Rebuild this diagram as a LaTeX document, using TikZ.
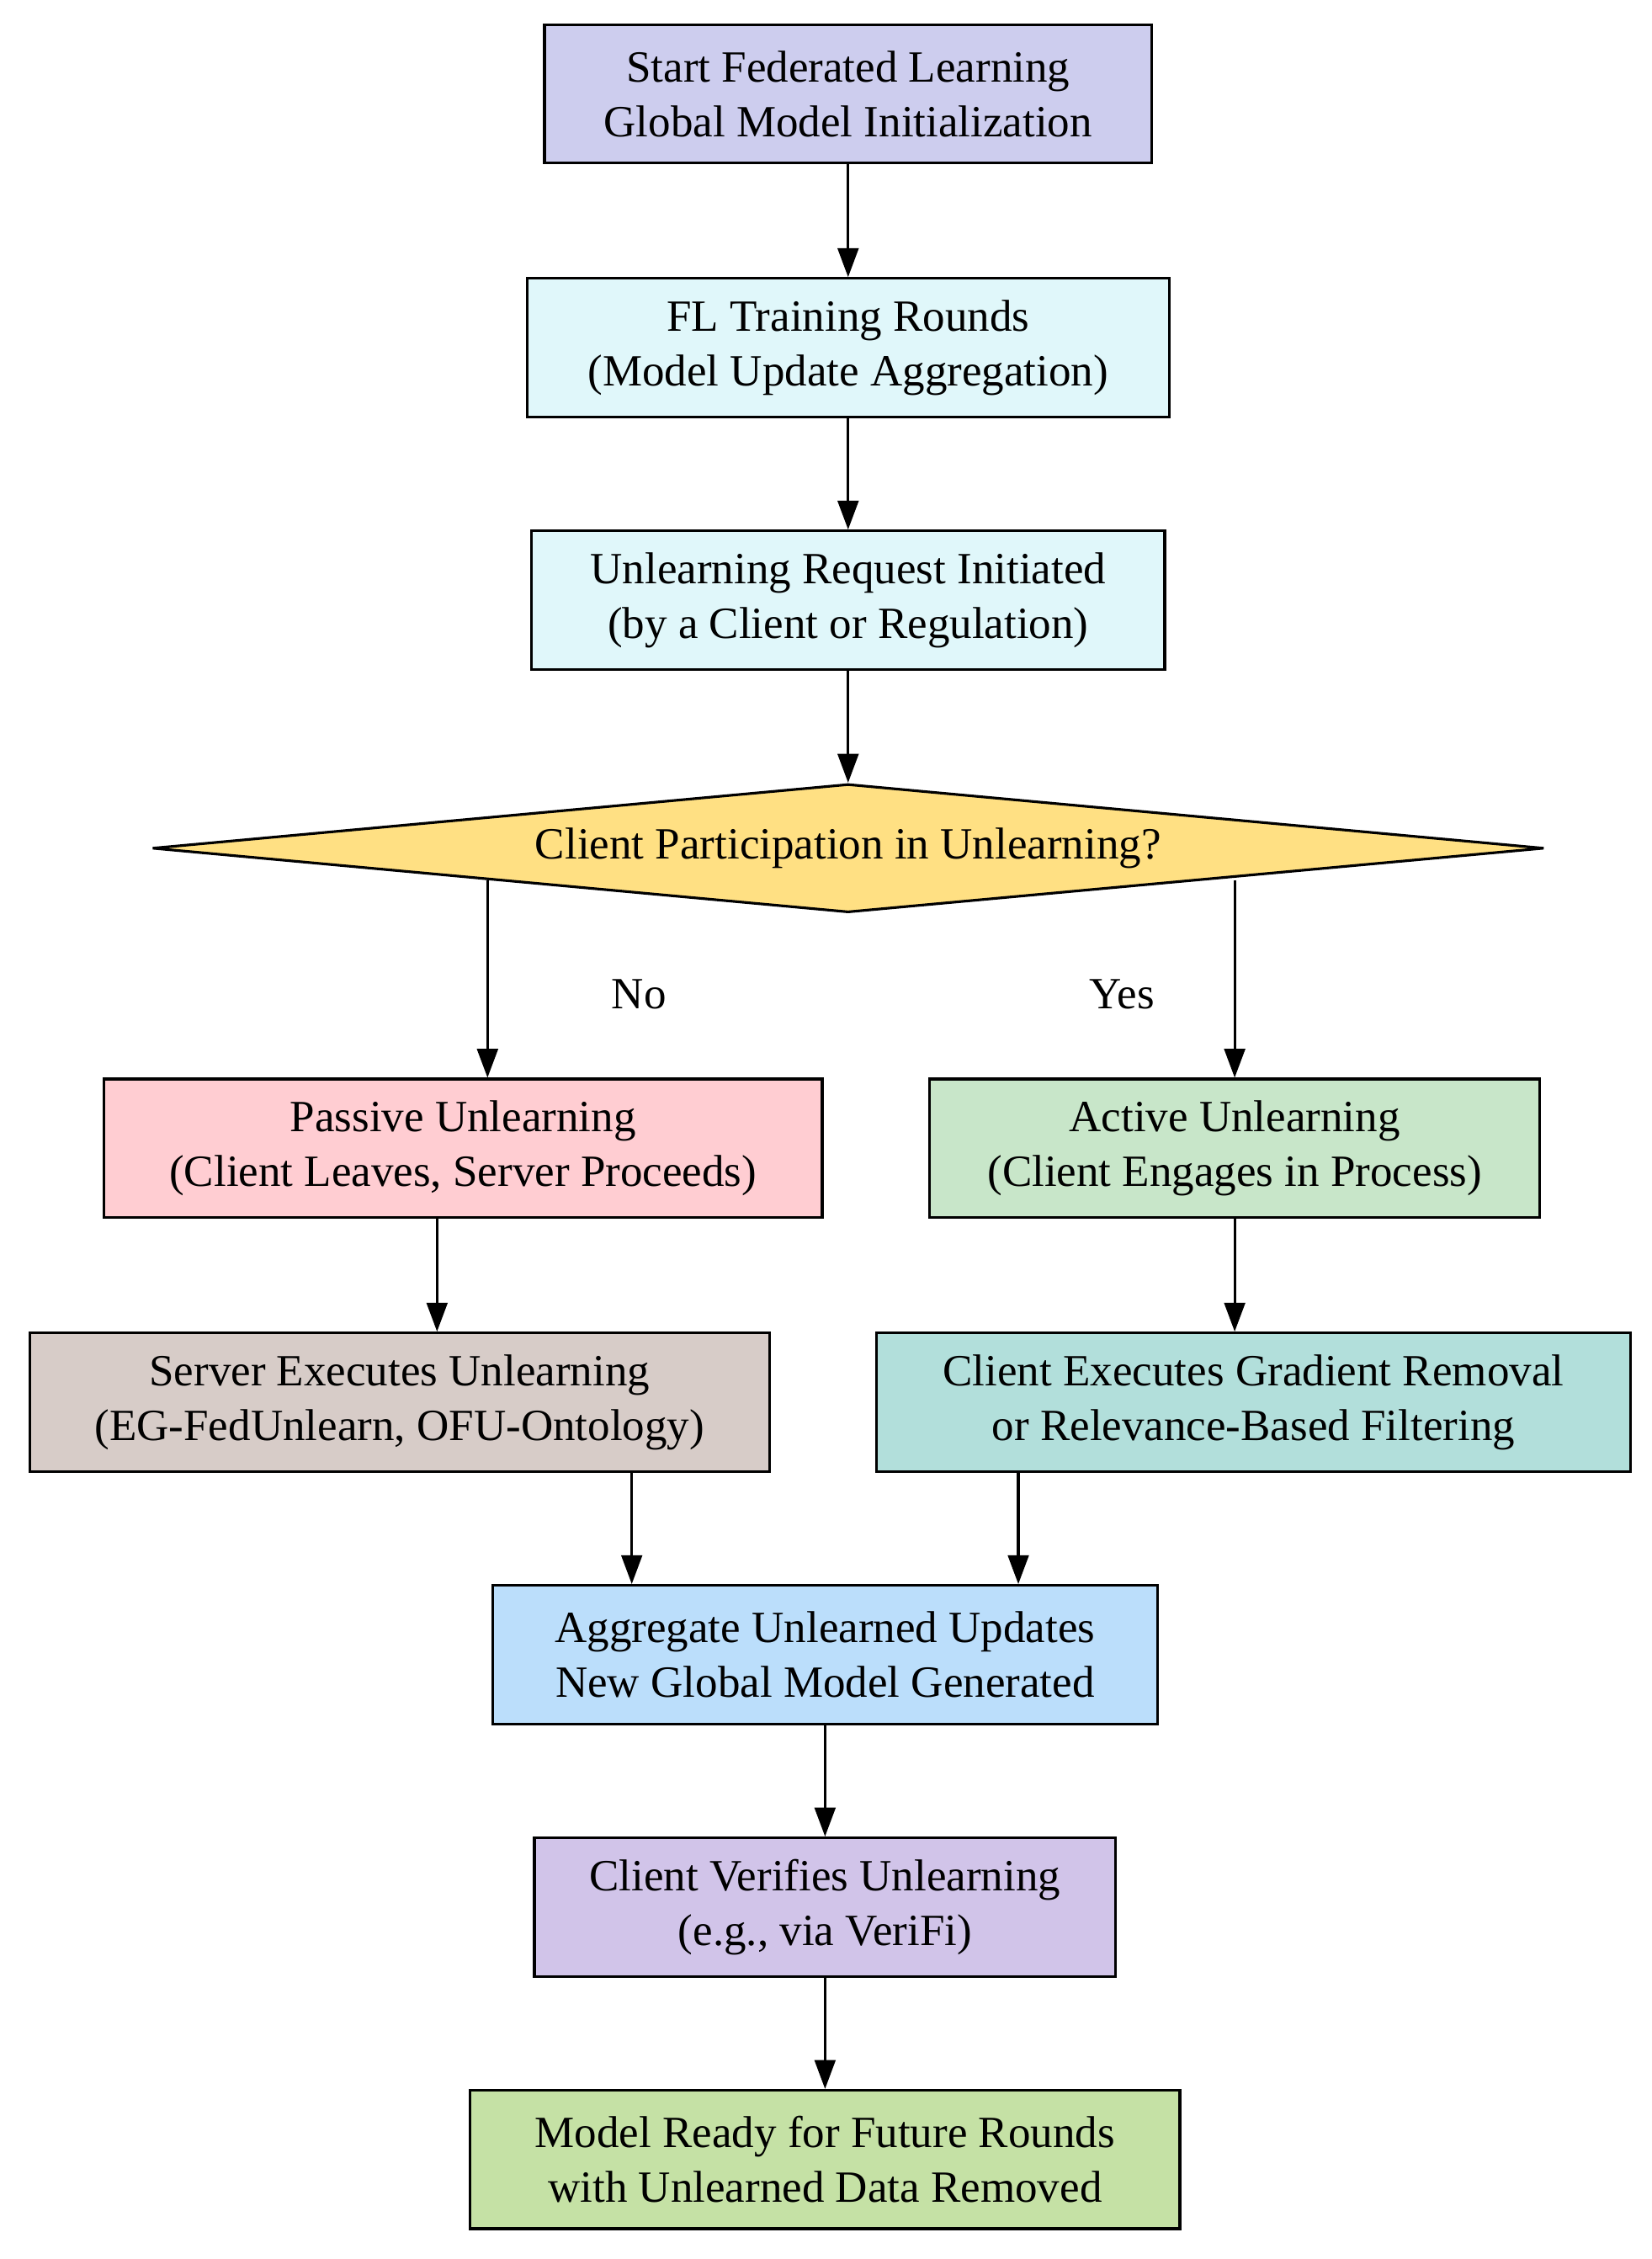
\documentclass[tikz,border=0pt]{standalone}
\usepackage{fontspec}
\setmainfont{Liberation Serif}
\usetikzlibrary{shapes.geometric,arrows.meta}
\begin{document}
\begin{tikzpicture}[x=0.025cm,y=0.025cm,
 box/.style={draw,line width=1.3pt,inner sep=0pt,align=center,font=\fontsize{22}{27}\selectfont,minimum height=96*0.025cm},
 arr/.style={line width=1.3pt,-{Triangle[length=0.5cm,width=0.36cm]}},
 lab/.style={font=\fontsize{22}{27}\selectfont}]
\useasboundingbox (0,0) rectangle (1145,-1566);
\definecolor{c1}{HTML}{CDCDEE}\definecolor{c2}{HTML}{E0F7FA}
\definecolor{cd}{HTML}{FFE083}\definecolor{cp}{HTML}{FFCDD2}
\definecolor{ca}{HTML}{C8E6C9}\definecolor{cs}{HTML}{D7CCC8}
\definecolor{cc}{HTML}{B2DFDB}\definecolor{cg}{HTML}{BBDEFB}
\definecolor{cv}{HTML}{D1C4E9}\definecolor{cr}{HTML}{C5E1A5}
\node[box,fill=c1,minimum width=421*0.025cm] (b1) at (588,-65) {Start Federated Learning\\Global Model Initialization};
\node[box,fill=c2,minimum width=445*0.025cm] (b2) at (588,-241) {FL Training Rounds\\(Model Update Aggregation)};
\node[box,fill=c2,minimum width=439*0.025cm] (b3) at (588,-416) {Unlearning Request Initiated\\(by a Client or Regulation)};
\node[diamond,draw,line width=1.3pt,fill=cd,inner sep=0pt,minimum width=965*0.025cm,minimum height=89*0.025cm,aspect=10.8,font=\fontsize{22}{27}\selectfont] (d) at (588,-588) {Client Participation in Unlearning?};
\node[box,fill=cp,minimum width=498*0.025cm] (pas) at (321,-796) {Passive Unlearning\\(Client Leaves, Server Proceeds)};
\node[box,fill=ca,minimum width=423*0.025cm] (act) at (856,-796) {Active Unlearning\\(Client Engages in Process)};
\node[box,fill=cs,minimum width=513*0.025cm] (srv) at (277,-972) {Server Executes Unlearning\\(EG-FedUnlearn, OFU-Ontology)};
\node[box,fill=cc,minimum width=523*0.025cm] (cli) at (869,-972) {Client Executes Gradient Removal\\or Relevance-Based Filtering};
\node[box,fill=cg,minimum width=461*0.025cm] (agg) at (572,-1147) {Aggregate Unlearned Updates\\New Global Model Generated};
\node[box,fill=cv,minimum width=403*0.025cm] (ver) at (572,-1322) {Client Verifies Unlearning\\(e.g., via VeriFi)};
\node[box,fill=cr,minimum width=492*0.025cm] (rdy) at (572,-1497) {Model Ready for Future Rounds\\with Unlearned Data Removed};
\node[lab] (no) at (443,-689) {No};
\node[lab] (yes) at (778,-689) {Yes};
\draw[arr] (b1) -- (b2);
\draw[arr] (b2) -- (b3);
\draw[arr] (b3) -- (d);
\coordinate (l1) at (338,-610);
\coordinate (r1) at (856,-610);
\draw[arr] (l1) -- (l1 |- pas.north);
\draw[arr] (r1) -- (r1 |- act.north);
\coordinate (l2) at (303,-845);
\draw[arr] (l2) -- (l2 |- srv.north);
\draw[arr] (act) -- (act |- cli.north);
\coordinate (l3) at (438,-1020);
\coordinate (r3) at (706,-1020);
\draw[arr] (l3) -- (l3 |- agg.north);
\draw[arr] (r3) -- (r3 |- agg.north);
\draw[arr] (agg) -- (ver);
\draw[arr] (ver) -- (rdy);
\end{tikzpicture}
\end{document}
